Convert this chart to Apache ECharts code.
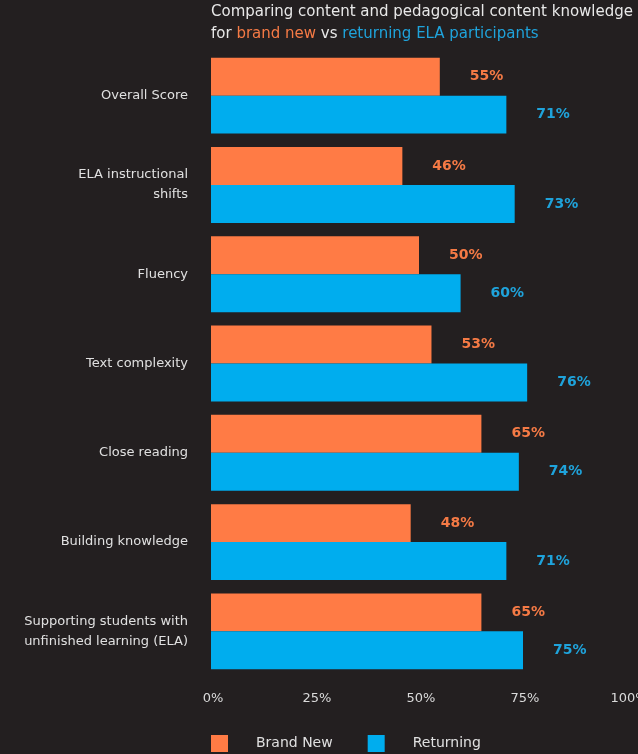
<!DOCTYPE html>
<html>
<head>
<meta charset="utf-8">
<script src="https://cdn.jsdelivr.net/npm/echarts@6/dist/echarts.min.js"></script>
<style>
  html, body { margin: 0; padding: 0; background: #231F20; }
  #chart { width: 638px; height: 754px; }
</style>
</head>
<body>
<div id="chart"></div>
<script>
// Knowledge areas, top to bottom
const categories = [
  'Overall Score',
  'ELA instructional\nshifts',
  'Fluency',
  'Text complexity',
  'Close reading',
  'Building knowledge',
  'Supporting students with\nunfinished learning (ELA)'
];
// Scores (%) for each participant group
const brandNew = [55, 46, 50, 53, 65, 48, 65];
const returning = [71, 73, 60, 76, 74, 71, 75];
const seriesNames = ['Brand New', 'Returning'];
const xTicks = [0, 25, 50, 75, 100];

const ORANGE = '#FF7B45';
const BLUE = '#00ADEE';
const FONT = 'DejaVu Sans';

const chart = echarts.init(document.getElementById('chart'));
chart.setOption({
  backgroundColor: '#231F20',
  animation: false,
  textStyle: { fontFamily: FONT },
  title: {
    left: 211,
    top: 1,
    padding: 0,
    text: 'Comparing content and pedagogical content knowledge\n{w|for }{o|brand new}{w| vs }{b|returning ELA participants}',
    textStyle: {
      color: '#E8E8E8',
      fontFamily: FONT,
      fontSize: 15,
      fontWeight: 'normal',
      lineHeight: 22,
      rich: {
        w: { color: '#E8E8E8', fontFamily: FONT, fontSize: 15, lineHeight: 22 },
        o: { color: '#F57A45', fontFamily: FONT, fontSize: 15, lineHeight: 22 },
        b: { color: '#1FA3DB', fontFamily: FONT, fontSize: 15, lineHeight: 22 }
      }
    }
  },
  legend: {
    left: 206,
    bottom: -3,
    icon: 'rect',
    itemWidth: 17,
    itemHeight: 17,
    itemGap: 35,
    data: seriesNames,
    textStyle: {
      color: '#E0E0E0',
      fontFamily: FONT,
      fontSize: 14,
      padding: [0, 0, 0, 23]
    }
  },
  grid: {
    left: 211,
    right: 11,
    top: 51,
    bottom: 78,
    containLabel: false,
    outerBoundsMode: 'none'
  },
  xAxis: {
    type: 'value',
    min: 0,
    max: 100,
    interval: 25,
    axisLine: { show: false },
    axisTick: { show: false },
    splitLine: { show: false },
    axisLabel: {
      color: '#DADADA',
      fontFamily: FONT,
      fontSize: 13,
      margin: 16,
      padding: [0, 0, 0, 4],
      formatter: v => xTicks.includes(v) ? v + '%' : ''
    }
  },
  yAxis: {
    type: 'category',
    inverse: true,
    data: categories,
    axisLine: { show: false },
    axisTick: { show: false },
    axisLabel: {
      color: '#E0E0E0',
      fontFamily: FONT,
      fontSize: 13,
      lineHeight: 20,
      margin: 23,
      align: 'right'
    }
  },
  series: [
    {
      name: seriesNames[0],
      type: 'bar',
      data: brandNew,
      itemStyle: { color: ORANGE },
      barGap: '0%',
      barCategoryGap: '15%',
      label: {
        show: true,
        position: 'right',
        distance: 30,
        color: '#F57A45',
        fontFamily: FONT,
        fontSize: 14,
        fontWeight: 'bold',
        formatter: p => p.value + '%'
      }
    },
    {
      name: seriesNames[1],
      type: 'bar',
      data: returning,
      itemStyle: { color: BLUE },
      barGap: '0%',
      barCategoryGap: '15%',
      label: {
        show: true,
        position: 'right',
        distance: 30,
        color: '#1FA3DB',
        fontFamily: FONT,
        fontSize: 14,
        fontWeight: 'bold',
        formatter: p => p.value + '%'
      }
    }
  ]
});
</script>
</body>
</html>
